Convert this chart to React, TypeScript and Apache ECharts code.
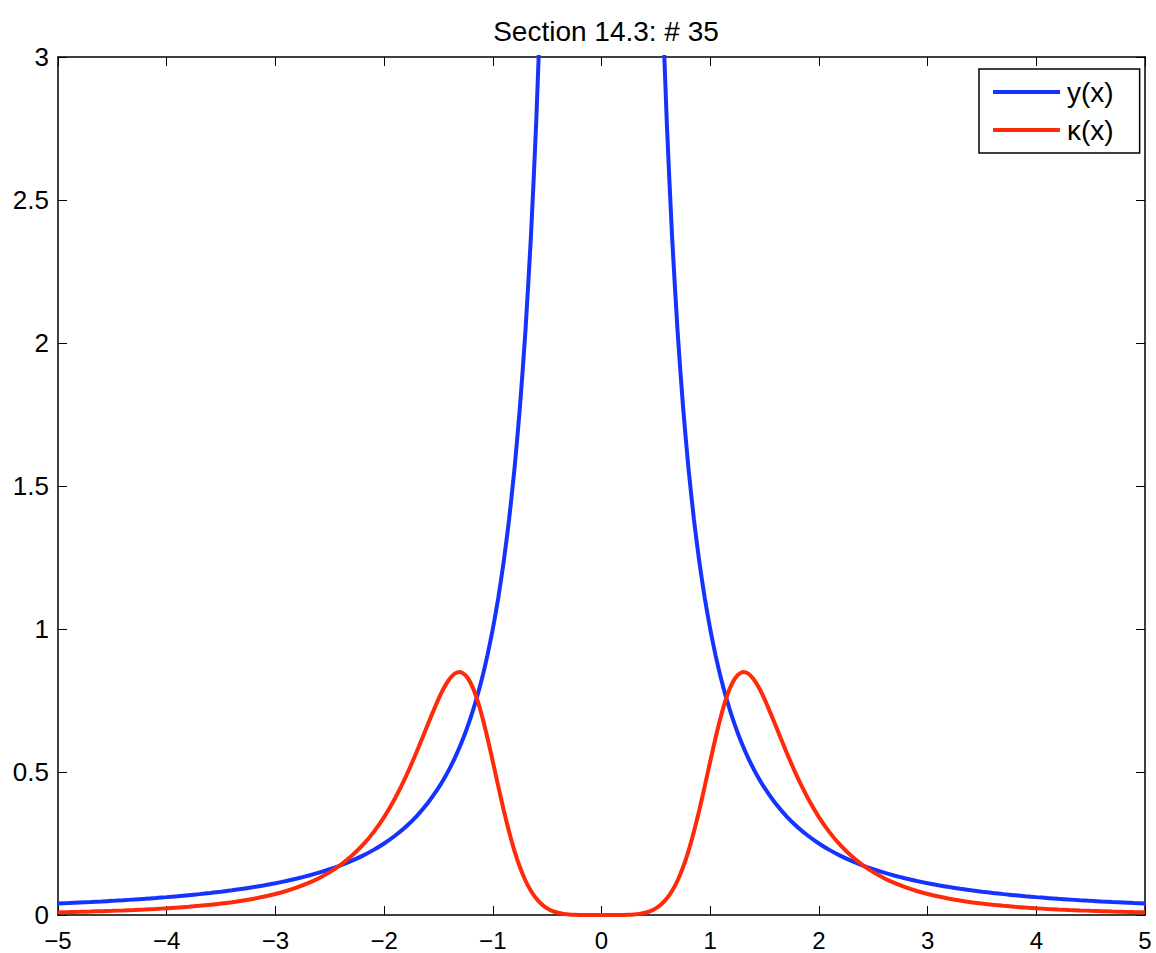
import React, { useEffect, useRef } from "react";
import * as echarts from "echarts";

const TITLE = "Section 14.3: # 35";
const SERIES_NAMES = ["y(x)", "κ(x)"];
const X_TICKS = [-5, -4, -3, -2, -1, 0, 1, 2, 3, 4, 5];
const Y_TICKS = [0, 0.5, 1, 1.5, 2, 2.5, 3];

const xValues = [
  -5, -4.9, -4.8, -4.7, -4.6, -4.5, -4.4, -4.3, -4.2, -4.1, -4, -3.9, -3.8, -3.7, -3.6, -3.5, -3.4, -3.3, -3.2, -3.1,
  -3, -2.9, -2.8, -2.7, -2.6, -2.5, -2.4, -2.3, -2.2, -2.1, -2, -1.9, -1.8, -1.7, -1.6, -1.5, -1.45, -1.4, -1.35, -1.3,
  -1.25, -1.2, -1.15, -1.1, -1.05, -1, -0.95, -0.9, -0.85, -0.8, -0.75, -0.7, -0.65, -0.6, -0.55, -0.5, -0.45, -0.4,
  -0.35, -0.3, -0.25, -0.2, -0.15, -0.1, -0.05, 0,
  0.05, 0.1, 0.15, 0.2, 0.25, 0.3, 0.35, 0.4, 0.45, 0.5, 0.55, 0.6, 0.65, 0.7, 0.75, 0.8, 0.85, 0.9, 0.95, 1,
  1.05, 1.1, 1.15, 1.2, 1.25, 1.3, 1.35, 1.4, 1.45, 1.5, 1.6, 1.7, 1.8, 1.9, 2, 2.1, 2.2, 2.3, 2.4, 2.5, 2.6, 2.7,
  2.8, 2.9, 3, 3.1, 3.2, 3.3, 3.4, 3.5, 3.6, 3.7, 3.8, 3.9, 4, 4.1, 4.2, 4.3, 4.4, 4.5, 4.6, 4.7, 4.8, 4.9, 5,
];

const yValues: (number | null)[] = [
  0.04, 0.0416, 0.0434, 0.0453, 0.0473, 0.0494, 0.0517, 0.0541, 0.0567, 0.0595, 0.0625, 0.0657, 0.0693, 0.073, 0.0772,
  0.0816, 0.0865, 0.0918, 0.0977, 0.1041, 0.1111, 0.1189, 0.1276, 0.1372, 0.1479, 0.16, 0.1736, 0.189, 0.2066, 0.2268,
  0.25, 0.277, 0.3086, 0.346, 0.3906, 0.4444, 0.4756, 0.5102, 0.5487, 0.5917, 0.64, 0.6944, 0.7561, 0.8264, 0.907, 1,
  1.108, 1.2346, 1.3841, 1.5625, 1.7778, 2.0408, 2.3669, 2.7778, 3.3058, 4, null, null, null, null, null, null, null,
  null, null, null,
  null, null, null, null, null, null, null, null, null, 4, 3.3058, 2.7778, 2.3669, 2.0408, 1.7778, 1.5625, 1.3841,
  1.2346, 1.108, 1, 0.907, 0.8264, 0.7561, 0.6944, 0.64, 0.5917, 0.5487, 0.5102, 0.4756, 0.4444, 0.3906, 0.346,
  0.3086, 0.277, 0.25, 0.2268, 0.2066, 0.189, 0.1736, 0.16, 0.1479, 0.1372, 0.1276, 0.1189, 0.1111, 0.1041, 0.0977,
  0.0918, 0.0865, 0.0816, 0.0772, 0.073, 0.0693, 0.0657, 0.0625, 0.0595, 0.0567, 0.0541, 0.0517, 0.0494, 0.0473,
  0.0453, 0.0434, 0.0416, 0.04,
];

const kappaValues = [
  0.0096, 0.0104, 0.0113, 0.01229, 0.01339, 0.01462, 0.01599, 0.01753, 0.01926, 0.02121, 0.0234, 0.02589, 0.02872,
  0.03194, 0.03562, 0.03985, 0.04474, 0.05036, 0.0569, 0.06453, 0.07347, 0.08398, 0.09641, 0.11118, 0.12879, 0.1499,
  0.17531, 0.206, 0.24315, 0.28812, 0.3424, 0.40736, 0.48376, 0.57078, 0.66431, 0.75461, 0.79343, 0.82428, 0.844,
  0.84951, 0.83817, 0.80858, 0.76082, 0.69691, 0.62055, 0.53666, 0.45059, 0.36729, 0.29071, 0.22344, 0.16673, 0.12069,
  0.08462, 0.05731, 0.03736, 0.0233, 0.0138, 0.00767, 0.00394, 0.00182, 0.00073, 0.00024, 0.00006, 0.00001, 0, 0,
  0, 0.00001, 0.00006, 0.00024, 0.00073, 0.00182, 0.00394, 0.00767, 0.0138, 0.0233, 0.03736, 0.05731, 0.08462,
  0.12069, 0.16673, 0.22344, 0.29071, 0.36729, 0.45059, 0.53666, 0.62055, 0.69691, 0.76082, 0.80858, 0.83817, 0.84951,
  0.844, 0.82428, 0.79343, 0.75461, 0.66431, 0.57078, 0.48376, 0.40736, 0.3424, 0.28812, 0.24315, 0.206, 0.17531,
  0.1499, 0.12879, 0.11118, 0.09641, 0.08398, 0.07347, 0.06453, 0.0569, 0.05036, 0.04474, 0.03985, 0.03562, 0.03194,
  0.02872, 0.02589, 0.0234, 0.02121, 0.01926, 0.01753, 0.01599, 0.01462, 0.01339, 0.01229, 0.0113, 0.0104, 0.0096,
];

const FONT = "'Liberation Sans', Arial, Helvetica, sans-serif";
const BLUE = "#1533ff";
const RED = "#ff2a0a";

const fmt = (v: number) => String(v).replace("-", "\u2212");

export default function App() {
  const ref = useRef<HTMLDivElement>(null);
  useEffect(() => {
    if (!ref.current) return;
    const chart = echarts.init(ref.current, undefined, { renderer: "svg" });
    const axisLine = { show: true, onZero: false, lineStyle: { color: "#000", width: 1.5 } };
    const axisTick = { show: true, inside: true, length: 9, lineStyle: { color: "#000", width: 1 } };
    const xMin = X_TICKS[0];
    const xMax = X_TICKS[X_TICKS.length - 1];
    const yMin = Y_TICKS[0];
    const yMax = Y_TICKS[Y_TICKS.length - 1];
    chart.setOption({
      animation: false,
      backgroundColor: "#fff",
      title: {
        text: TITLE,
        left: 601,
        top: 12,
        textAlign: "center",
        textStyle: { fontFamily: FONT, fontSize: 28, fontWeight: "normal", color: "#000" },
      },
      legend: {
        orient: "vertical",
        left: 979,
        top: 69,
        padding: [9, 26, 9, 14],
        itemGap: 10,
        itemWidth: 67,
        itemHeight: 4,
        icon: "rect",
        borderColor: "#000",
        borderWidth: 1.5,
        backgroundColor: "#fff",
        textStyle: { fontFamily: FONT, fontSize: 28, lineHeight: 28, color: "#000", padding: [0, 0, 0, 2] },
        data: SERIES_NAMES,
      },
      grid: { left: 58, right: 11, top: 57, bottom: 38, containLabel: false },
      xAxis: [
        {
          type: "value",
          min: xMin,
          max: xMax,
          interval: 1,
          position: "bottom",
          axisLine,
          axisTick,
          splitLine: { show: false },
          axisLabel: {
            fontFamily: FONT,
            fontSize: 24,
            lineHeight: 24,
            color: "#000",
            margin: 13,
            formatter: fmt,
          },
        },
        {
          type: "value",
          min: xMin,
          max: xMax,
          interval: 1,
          position: "top",
          axisLine,
          axisTick,
          splitLine: { show: false },
          axisLabel: { show: false },
        },
      ],
      yAxis: [
        {
          type: "value",
          min: yMin,
          max: yMax,
          interval: 0.5,
          position: "left",
          axisLine,
          axisTick,
          splitLine: { show: false },
          axisLabel: { fontFamily: FONT, fontSize: 26, color: "#000", margin: 9, formatter: fmt },
        },
        {
          type: "value",
          min: yMin,
          max: yMax,
          interval: 0.5,
          position: "right",
          axisLine,
          axisTick,
          splitLine: { show: false },
          axisLabel: { show: false },
        },
      ],
      series: [
        {
          name: SERIES_NAMES[0],
          type: "line",
          data: xValues.map((x, i) => [x, yValues[i]]),
          symbol: "none",
          smooth: 0.2,
          clip: true,
          connectNulls: false,
          lineStyle: { color: BLUE, width: 4 },
          itemStyle: { color: BLUE },
        },
        {
          name: SERIES_NAMES[1],
          type: "line",
          data: xValues.map((x, i) => [x, kappaValues[i]]),
          symbol: "none",
          smooth: 0.2,
          clip: true,
          lineStyle: { color: RED, width: 4 },
          itemStyle: { color: RED },
        },
      ],
    });
    return () => chart.dispose();
  }, []);
  return (
    <div
      ref={ref}
      style={{ position: "absolute", left: 0, top: 0, width: 1156, height: 953 }}
    />
  );
}
